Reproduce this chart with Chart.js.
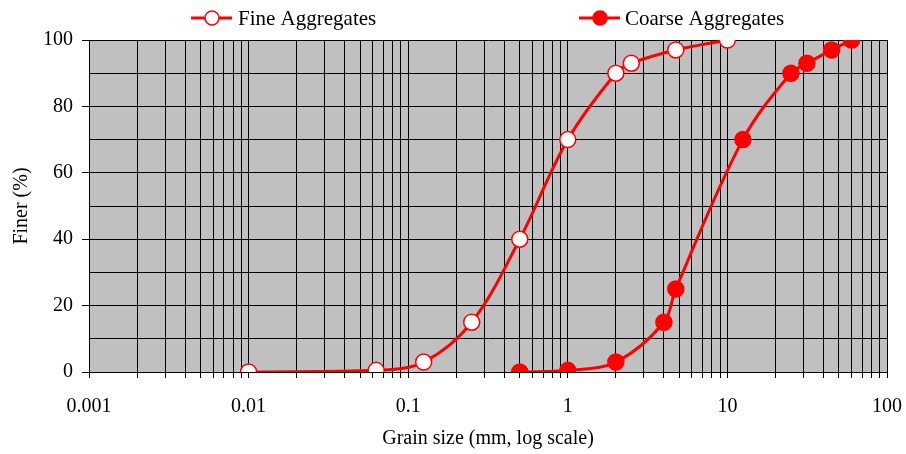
<!DOCTYPE html>
<html>
<head>
<meta charset="utf-8">
<title>Grain size distribution</title>
<script src="https://cdn.jsdelivr.net/npm/chart.js@4.4.1/dist/chart.umd.min.js"></script>
<style>
    html, body { margin: 0; padding: 0; background: #fff; }
    #wrap { width: 906px; height: 454px; position: relative; }
</style>
</head>
<body>
<div id="wrap"><canvas id="grading-chart"></canvas></div>
<script>
// sieve sizes (mm) and percent passing
const fineSize = [0.01, 0.063, 0.125, 0.25, 0.5, 1, 2, 2.5, 4.75, 10];
const finePassing = [0, 0.5, 3, 15, 40, 70, 90, 93, 97, 100];
const coarseSize = [0.5, 1, 2, 4, 4.75, 12.5, 25, 31.5, 45, 60];
const coarsePassing = [0, 0.5, 3, 15, 25, 70, 90, 93, 97, 100];

// axis ticks
const xDecades = [0.001, 0.01, 0.1, 1, 10];
const xTickLabels = ['0.001', '0.01', '0.1', '1', '10', '100'];
const yTickLabels = [0, 20, 40, 60, 80, 100];

const RED = '#ff0000';
const FONT = 'Liberation Serif, Times New Roman, serif';

const toPoints = (xs, ys) => xs.map((x, i) => ({ x, y: ys[i] }));

const isDecade = v => Math.abs(Math.log10(v) - Math.round(Math.log10(v))) < 1e-9;

// 1..9 in each decade plus the end value
const xTickValues = [];
xDecades.forEach(d => {
    for (let m = 1; m <= 9; m++) xTickValues.push(+(d * m).toPrecision(6));
});
xTickValues.push(100);

const plotBackground = {
    id: 'plotBackground',
    beforeDraw(chart) {
        const { ctx, chartArea: a } = chart;
        ctx.save();
        ctx.fillStyle = '#c0c0c0';
        ctx.fillRect(a.left, a.top, a.right - a.left, a.bottom - a.top);
        ctx.restore();
    }
};

// legend drawn by hand so the two entries sit where they do in the original
const legendItems = {
    id: 'legendItems',
    afterDraw(chart) {
        const { ctx } = chart;
        const spots = [{ x0: 191, text: 238 }, { x0: 579, text: 625 }];
        ctx.save();
        chart.data.datasets.forEach((ds, i) => {
            const s = spots[i];
            const y = 18;
            ctx.strokeStyle = ds.borderColor;
            ctx.lineWidth = 3;
            ctx.beginPath();
            ctx.moveTo(s.x0, y);
            ctx.lineTo(s.x0 + 41, y);
            ctx.stroke();
            ctx.beginPath();
            ctx.arc(s.x0 + 21, y, 7, 0, Math.PI * 2);
            ctx.fillStyle = ds.pointBackgroundColor;
            ctx.fill();
            ctx.lineWidth = 1.5;
            ctx.strokeStyle = ds.pointBorderColor;
            ctx.stroke();
            ctx.fillStyle = '#000';
            ctx.font = '21px ' + FONT;
            ctx.textBaseline = 'middle';
            ctx.textAlign = 'left';
            ctx.fillText(ds.label, s.text, y + 1);
        });
        ctx.restore();
    }
};

function seriesStyle(fill) {
    return {
        borderColor: RED,
        borderWidth: 3,
        tension: 0.35,
        pointRadius: 8,
        pointHoverRadius: 8,
        pointBorderWidth: 1.5,
        pointBorderColor: RED,
        pointBackgroundColor: fill,
        fill: false
    };
}

new Chart(document.getElementById('grading-chart'), {
    type: 'line',
    data: {
        datasets: [
            { label: 'Fine Aggregates', data: toPoints(fineSize, finePassing), ...seriesStyle('#ffffff') },
            { label: 'Coarse Aggregates', data: toPoints(coarseSize, coarsePassing), ...seriesStyle(RED) }
        ]
    },
    options: {
        responsive: true,
        maintainAspectRatio: false,
        animation: false,
        layout: { padding: { top: 40, right: 19, left: 0, bottom: 0 } },
        plugins: {
            legend: { display: false },
            tooltip: { enabled: false }
        },
        scales: {
            x: {
                type: 'logarithmic',
                min: 0.001,
                max: 100,
                afterBuildTicks: scale => {
                    scale.ticks = xTickValues.map(v => ({ value: v }));
                },
                afterFit: scale => {
                    scale.height = 82;
                    scale.paddingLeft = 0;
                    scale.paddingRight = 0;
                },
                ticks: {
                    autoSkip: false,
                    maxRotation: 0,
                    padding: 17,
                    color: '#000',
                    font: { family: FONT, size: 20 },
                    callback: v => isDecade(v) ? xTickLabels[Math.round(Math.log10(v)) + 3] : ''
                },
                grid: { color: '#000', lineWidth: 1, tickLength: 6, tickColor: '#000' },
                border: { color: '#000', width: 1 },
                title: {
                    display: true,
                    text: 'Grain size (mm, log scale)',
                    color: '#000',
                    font: { family: FONT, size: 20 },
                    padding: { top: 3, bottom: 3 }
                }
            },
            y: {
                min: 0,
                max: 100,
                afterFit: scale => {
                    scale.width = 89;
                    scale.paddingTop = 0;
                    scale.paddingBottom = 0;
                },
                ticks: {
                    stepSize: 10,
                    padding: 9,
                    color: '#000',
                    font: { family: FONT, size: 20 },
                    callback: v => yTickLabels.includes(v) ? String(v) : ''
                },
                grid: {
                    color: '#000',
                    lineWidth: 1,
                    tickLength: 7,
                    tickColor: ctx => yTickLabels.includes(ctx.tick.value) ? '#000' : 'transparent'
                },
                border: { color: '#000', width: 1 },
                title: {
                    display: true,
                    text: 'Finer (%)',
                    color: '#000',
                    font: { family: FONT, size: 20 },
                    padding: { top: 10, bottom: 10 }
                }
            }
        }
    },
    plugins: [plotBackground, legendItems]
});
</script>
</body>
</html>
